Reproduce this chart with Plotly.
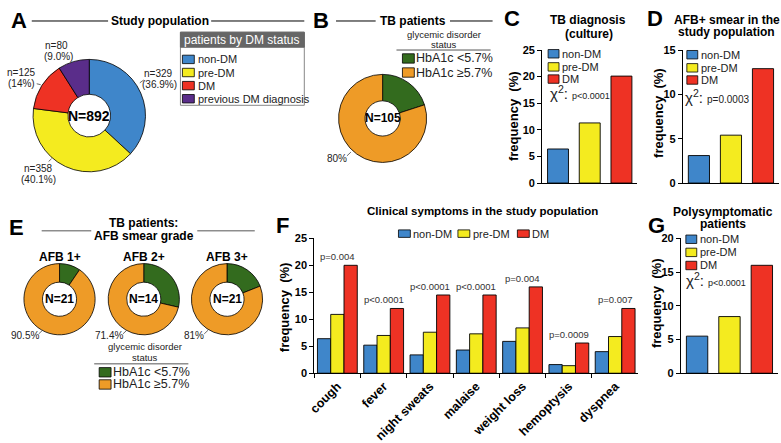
import plotly.graph_objects as go

W, H = 781, 443
def fx(x): return x / W
def fy(y): return 1 - y / H

FONT = "Liberation Sans, Arial, Helvetica, sans-serif"
BLUE, YELLOW, RED, PURPLE = "#3F86CA", "#F4EB1F", "#EE3224", "#5A2D8A"
GREEN, ORANGE = "#336B1E", "#EE9B27"
TXT = "#222222"

# ---------------- data ----------------
dm_groups = ["non-DM", "pre-DM", "DM", "previous DM diagnosis"]
study_counts = [329, 358, 125, 80]
study_pct = ["36.9%", "40.1%", "14%", "9.0%"]
study_total = 892

hba1c_groups = ["HbA1c <5.7%", "HbA1c ≥5.7%"]
tb_pct = [20, 80]
tb_n = 105

afb_grades = ["AFB 1+", "AFB 2+", "AFB 3+"]
afb_n = [21, 14, 21]
afb_low = [9.5, 28.6, 19.0]
afb_high = [90.5, 71.4, 81.0]
afb_high_lbl = ["90.5%", "71.4%", "81%"]

bar_groups = ["non-DM", "pre-DM", "DM"]
culture_freq = [6.4, 11.3, 20.1]
culture_p = "p&lt;0.0001"
smear_freq = [3.1, 5.4, 12.9]
smear_p = "p=0.0003"
poly_freq = [5.5, 8.4, 16.0]
poly_p = "p&lt;0.0001"

symptoms = ["cough", "fever", "night sweats", "malaise", "weight loss", "hemoptysis", "dyspnea"]
sym_nondm = [6.4, 5.2, 3.4, 4.3, 5.9, 1.6, 4.0]
sym_predm = [10.9, 7.0, 7.6, 7.3, 8.4, 1.4, 6.8]
sym_dm = [20.0, 12.0, 14.5, 14.5, 16.0, 5.6, 12.0]
sym_p = ["p=0.004", "p&lt;0.0001", "p&lt;0.0001", "p&lt;0.0001", "p=0.004", "p=0.0009", "p=0.007"]

dm_colors = [BLUE, YELLOW, RED, PURPLE]
gly_colors = [GREEN, ORANGE]

fig = go.Figure()

def pie_domain(cx, cy, r):
    return dict(x=[fx(cx - r), fx(cx + r)], y=[fy(cy + r), fy(cy - r)])

pie_common = dict(sort=False, direction="clockwise", rotation=0, textinfo="none",
                  hoverinfo="skip", marker_line=dict(color="black", width=0.8))

# A
fig.add_trace(go.Pie(labels=dm_groups, values=study_counts, hole=0.38,
                     domain=pie_domain(83, 117, 60), marker_colors=dm_colors, **pie_common))
# B
fig.add_trace(go.Pie(labels=hba1c_groups, values=tb_pct, hole=0.40,
                     domain=pie_domain(379, 120, 47), marker_colors=gly_colors, **pie_common))
# E
e_cx = [53, 138, 222]
for i in range(3):
    fig.add_trace(go.Pie(labels=hba1c_groups, values=[afb_low[i], afb_high[i]], hole=0.48,
                         domain=pie_domain(e_cx[i], 313, 38), marker_colors=gly_colors, **pie_common))

bar_line = dict(color="black", width=0.9)
# C
fig.add_trace(go.Bar(x=bar_groups, y=culture_freq, marker_color=dm_colors[:3], marker_line=bar_line,
                     width=0.66, xaxis="x", yaxis="y", hoverinfo="skip"))
# D
fig.add_trace(go.Bar(x=bar_groups, y=smear_freq, marker_color=dm_colors[:3], marker_line=bar_line,
                     width=0.66, xaxis="x2", yaxis="y2", hoverinfo="skip"))
# F
for vals, col, nm in [(sym_nondm, BLUE, "non-DM"), (sym_predm, YELLOW, "pre-DM"), (sym_dm, RED, "DM")]:
    fig.add_trace(go.Bar(x=symptoms, y=vals, name=nm, marker_color=col, marker_line=bar_line,
                         xaxis="x3", yaxis="y3", hoverinfo="skip"))
# G
fig.add_trace(go.Bar(x=bar_groups, y=poly_freq, marker_color=dm_colors[:3], marker_line=bar_line,
                     width=0.66, xaxis="x4", yaxis="y4", hoverinfo="skip"))

tickfont = dict(family=FONT, size=11, color="black", weight="bold")

def yax(top, bottom, rng, anchor):
    return dict(domain=[fy(bottom), fy(top)], range=rng, dtick=5, ticks="outside", ticklen=4,
                tickwidth=1, tickcolor="black", showline=True, linecolor="black", linewidth=1,
                showgrid=False, zeroline=False, tickfont=tickfont, anchor=anchor, fixedrange=True)

def xax(left, right, anchor):
    return dict(domain=[fx(left), fx(right)], showline=True, linecolor="black", linewidth=1,
                showticklabels=False, ticks="", showgrid=False, zeroline=False, anchor=anchor,
                fixedrange=True)

xf = xax(310, 637, "y3")
xf.update(showticklabels=True, ticks="outside", tickson="boundaries", ticklen=4, tickwidth=1,
          tickcolor="black", tickangle=-45,
          tickfont=dict(family=FONT, size=12.5, color="black", weight="bold"))

fig.update_layout(
    width=W, height=H, margin=dict(l=0, r=0, t=0, b=0),
    paper_bgcolor="white", plot_bgcolor="white", showlegend=False,
    barmode="group", bargap=0.14, bargroupgap=0,
    font=dict(family=FONT, color=TXT),
    xaxis=xax(540, 636, "y"), yaxis=yax(47, 189, [0, 25], "x"),
    xaxis2=xax(682, 779, "y2"), yaxis2=yax(47, 189, [0, 15], "x2"),
    xaxis3=xf, yaxis3=yax(248, 392, [0, 25], "x3"),
    xaxis4=xax(680, 778, "y4"), yaxis4=yax(248, 392, [0, 20], "x4"),
)

anns = []
shapes = []

def ann(x, y, text, size=11, bold=False, color=TXT, xanchor="center", yanchor="middle", angle=0, **kw):
    d = dict(x=fx(x), y=fy(y), xref="paper", yref="paper", text=text, showarrow=False,
             xanchor=xanchor, yanchor=yanchor, textangle=angle, borderpad=0,
             font=dict(family=FONT, size=size, color=color, weight="bold" if bold else "normal"))
    d.update(kw)
    anns.append(d)

def line(x0, y0, x1, y1, color="black", width=1):
    shapes.append(dict(type="line", xref="paper", yref="paper", x0=fx(x0), y0=fy(y0),
                       x1=fx(x1), y1=fy(y1), line=dict(color=color, width=width)))

def rect(x0, y0, x1, y1, fill, lc="black", lw=0.8):
    shapes.append(dict(type="rect", xref="paper", yref="paper", x0=fx(x0), y0=fy(y0),
                       x1=fx(x1), y1=fy(y1), fillcolor=fill, line=dict(color=lc, width=lw)))

# panel letters
for L, x, y in [("A", 12, 15), ("B", 317, 15), ("C", 510, 13), ("D", 654, 13),
                ("E", 10, 236), ("F", 278, 234), ("G", 655, 234)]:
    ann(x, y, L, size=22, bold=True, color="black")

# ---- A ----
ann(154, 16, "Study population", size=12, bold=True, color="black")
line(25, 16, 102, 16, width=1); line(206, 16, 300, 16, width=1)
ann(83, 117, "N=%d" % study_total, size=14, bold=True, color="black")
a_lbl_pos = [(153, 72, 154, 84), (32, 173, 32, 185), (15, 71, 15, 83), (50, 42, 52, 54)]
for i in range(4):
    x1, y1, x2, y2 = a_lbl_pos[i]
    ann(x1, y1, "n=%d" % study_counts[i], size=10)
    ann(x2, y2, "(%s)" % study_pct[i], size=10)
line(134, 82, 138, 79, color="#444", width=0.8)
line(30, 83, 34, 84, color="#444", width=0.8)
line(42, 166, 45, 163, color="#444", width=0.8)
# A legend
rect(175, 28, 300, 106, "white", lc="#888888", lw=1)
rect(175, 28, 300, 44, "#666666", lc="#666666", lw=1)
ann(178, 36, "patients by DM status", size=12, color="white", xanchor="left")
for i, yy in enumerate([57, 71, 85, 99]):
    rect(177, yy - 4.5, 189, yy + 4.5, dm_colors[i])
    ann(192, yy, dm_groups[i], size=11, xanchor="left")

# ---- B ----
ann(410, 16, "TB patients", size=12, bold=True, color="black")
line(332, 16, 372, 16); line(447, 16, 490, 16)
ann(379, 120, "N=%d" % tb_n, size=12, bold=True, color="black")
ann(333, 163, "%d%%" % tb_pct[1], size=10)
line(343, 160, 347, 156, color="#444", width=0.8)
ann(441, 30, "glycemic disorder", size=9.5)
ann(441, 41, "status", size=9.5)
line(393, 47, 488, 47, color="#555", width=1)
for i, yy in enumerate([56, 71]):
    rect(399, yy - 5, 411, yy + 5, gly_colors[i])
    ann(412, yy, hba1c_groups[i], size=12.5, xanchor="left")

# ---- C ----
ann(586, 15, "TB diagnosis", size=12, bold=True, color="black")
ann(587, 30, "(culture)", size=12, bold=True, color="black")
ann(511, 117, "frequency  (%)", size=13, bold=True, color="black", angle=-90)
for i, yy in enumerate([51, 65, 78]):
    rect(546, yy - 4.5, 557, yy + 4.5, dm_colors[i])
    ann(559, yy, bar_groups[i], size=11, xanchor="left")
ann(547, 92, "<span style='font-size:15px'>χ<sup>2</sup>:</span> <span style='font-size:9px'>%s</span>" % culture_p,
    size=15, xanchor="left")

# ---- D ----
ann(727, 15, "AFB+ smear in the", size=12, bold=True, color="black")
ann(726, 28, "study population", size=12, bold=True, color="black")
ann(658, 114, "frequency  (%)", size=13, bold=True, color="black", angle=-90)
for i, yy in enumerate([52, 66, 79]):
    rect(686, yy - 4.5, 697, yy + 4.5, dm_colors[i])
    ann(699, yy, bar_groups[i], size=11, xanchor="left")
ann(683, 97, "<span style='font-size:15px'>χ<sup>2</sup>:</span> <span style='font-size:10px'>%s</span>" % smear_p,
    size=15, xanchor="left")

# ---- E ----
ann(138, 232, "TB patients:", size=12, bold=True, color="black")
ann(138, 246, "AFB smear grade", size=12, bold=True, color="black")
line(35, 240, 85, 240, color="#555"); line(192, 240, 250, 240, color="#555")
e_lbl_x = [18, 103, 189]
for i in range(3):
    ann(e_cx[i], 268, afb_grades[i], size=12, bold=True, color="black")
    ann(e_cx[i], 313, "N=%d" % afb_n[i], size=12, bold=True, color="black")
    ann(e_lbl_x[i], 352, afb_high_lbl[i], size=10)
    line(e_lbl_x[i] + 14 - (4 if i == 2 else 0), 350, e_lbl_x[i] + 18 - (4 if i == 2 else 0), 346,
         color="#444", width=0.8)
ann(139, 364, "glycemic disorder", size=9.5)
ann(139, 375, "status", size=9.5)
line(88, 382, 183, 382, color="#555")
for i, yy in enumerate([391, 404]):
    rect(93, yy - 5, 105, yy + 5, gly_colors[i])
    ann(106, yy, hba1c_groups[i], size=12.5, xanchor="left")

# ---- F ----
ann(480, 219, "Clinical symptoms in the study population", size=11.5, bold=True, color="black")
ann(280, 321, "frequency  (%)", size=13, bold=True, color="black", angle=-90)
for i, (xs, xt) in enumerate([(395, 409), (455, 469), (515, 529)]):
    rect(xs, 239, xs + 12, 247, dm_colors[i])
    ann(xt, 243, bar_groups[i], size=11, xanchor="left")
for i, s in enumerate(symptoms):
    anns.append(dict(x=s, y=sym_dm[i], xref="x3", yref="y3", text=sym_p[i], showarrow=False,
                     yanchor="bottom", yshift=1, font=dict(family=FONT, size=9.5, color="#333")))

# ---- G ----
ann(722, 220, "Polysymptomatic", size=12, bold=True, color="black")
ann(722, 233, "patients", size=12, bold=True, color="black")
ann(656, 317, "frequency  (%)", size=13, bold=True, color="black", angle=-90)
for i, yy in enumerate([249, 263, 277]):
    rect(685, yy - 4.5, 696, yy + 4.5, dm_colors[i])
    ann(698, yy, bar_groups[i], size=11, xanchor="left")
ann(684, 292, "<span style='font-size:15px'>χ<sup>2</sup>:</span> <span style='font-size:9px'>%s</span>" % poly_p,
    size=15, xanchor="left")

fig.update_layout(annotations=anns, shapes=shapes)
fig.write_html("out.html", config={"displayModeBar": False, "staticPlot": True},
               post_script="document.body.style.margin='0px';document.body.style.overflow='hidden';")
